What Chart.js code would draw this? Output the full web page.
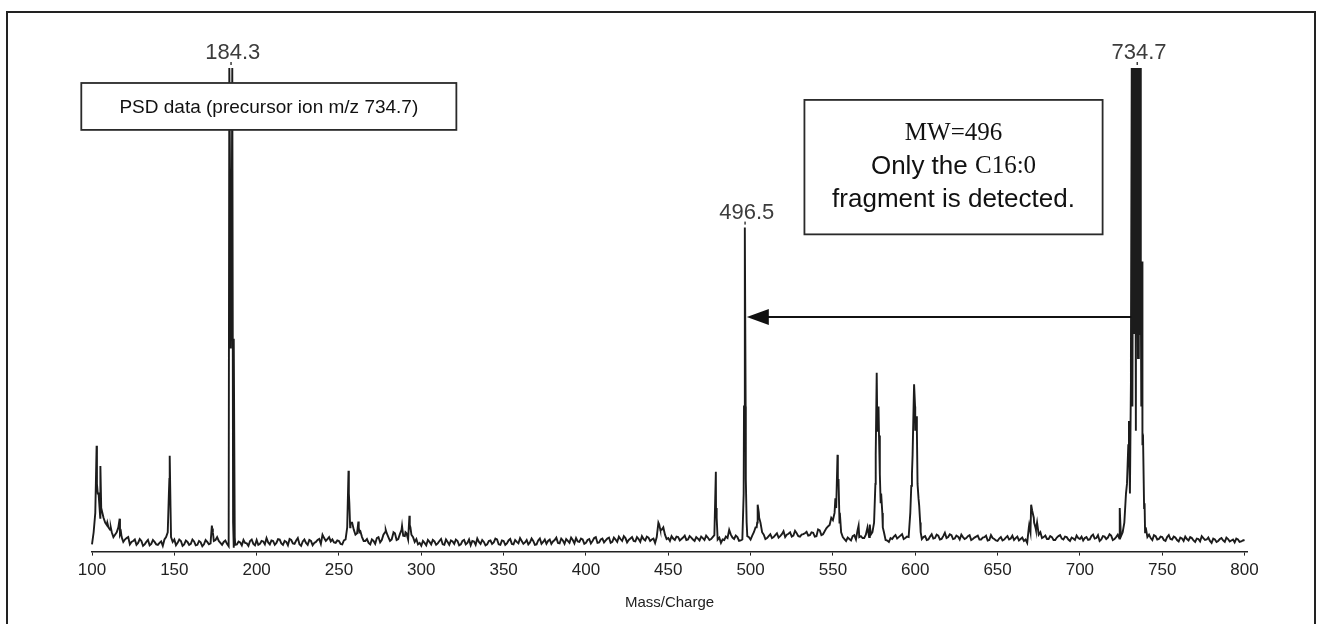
<!DOCTYPE html>
<html>
<head>
<meta charset="UTF-8">
<title>PSD spectrum</title>
<script src="https://cdn.jsdelivr.net/npm/chart.js@4.4.0/dist/chart.umd.min.js"></script>
<style>
  html, body { margin: 0; padding: 0; background: #fff; overflow: hidden; }
  #frame { position: absolute; left: 6px; top: 11px; width: 1306px; height: 700px; border: 2px solid #222; }
  #spectrum { position: absolute; left: 0; top: 0; }
</style>
</head>
<body>
<div id="frame"></div>
<canvas id="spectrum" width="1322" height="624"></canvas>
<script>
// profile trace, relative intensity %: readings at even m/z (100..800) and odd m/z (101..799)
var profileStep = 2;
var evenStart = 100;
var profileEven = [
  1.5, 8, 12, 9, 6, 5, 4, 3.5, 5, 3, 2.5, 3, 2, 2.5, 1.8, 2.2, 1.5, 2.4, 1.6, 2, 1.4, 2.1, 2.5, 4, 3,
  2.5, 1.8, 2.2, 1.5, 2, 1.6, 2.1, 1.4, 1.9, 1.5, 2.0, 1.7, 2.2, 3, 1.8, 2, 1.6, 70, 0.8, 1.5, 1.9, 2.4, 1.7, 2.2, 1.6,
  2.4, 1.6, 2.1, 2.8, 1.5, 2.2, 1.8, 2.5, 1.4, 2, 2.6, 1.7, 2.3, 1.5, 2.1, 1.8, 2.4, 1.3, 2, 2.6, 3.5, 2.2, 3, 2.5, 1.8,
  2.2, 1.5, 2.5, 12, 6, 3.5, 5, 3, 2.2, 1.8, 2.5, 1.6, 3, 2.4, 4, 3, 2.5, 3.8, 2.6, 4.5, 3.2, 2.5, 3.5, 2, 1.5,
  1.2, 1.8, 2.4, 1.5, 2.1, 1.7, 2.6, 1.4, 2, 2.3, 1.6, 2.2, 1.5, 2.4, 1.8, 1.3, 2.1, 2.7, 1.6, 2, 1.5, 2.3, 1.9, 2.5, 1.4,
  2.2, 1.7, 2.6, 1.5, 2, 2.8, 1.6, 2.4, 1.9, 2.2, 1.5, 2.7, 2, 1.6, 2.5, 2.1, 2.9, 1.7, 2.3, 2.6, 1.8, 2.4, 2.8, 2, 2.5,
  1.8, 2.6, 2.2, 3, 1.9, 2.7, 2.3, 2.9, 2, 2.5, 3.1, 2.2, 2.8, 2.4, 3, 2.1, 2.6, 3.2, 2.3, 2.9, 2.5, 1.8, 6, 4.5, 3.5,
  2.8, 3.2, 2.4, 3, 2.6, 3.3, 2.5, 2.9, 2.2, 2.7, 3.1, 2.4, 2.9, 2.6, 3.4, 2.5, 1.8, 2.4, 2.8, 3.5, 2.6, 3, 2.3, 30, 3.2,
  2.5, 4, 6, 6, 3.5, 2.8, 3.6, 3, 3.8, 3.2, 4.2, 3.5, 4, 3.3, 3.8, 3.1, 3.6, 4.1, 3.4, 3.9, 3.2, 4.4, 3.6, 4.8, 5.5,
  6.5, 9, 6, 3, 2.2, 2.6, 3.2, 2.5, 3, 2.8, 3.5, 3, 4, 20, 24, 8, 2.4, 2, 2.6, 3.4, 3, 3.6, 2.8, 3, 16,
  25, 11, 2.6, 3.2, 2.5, 3.6, 2.8, 3.3, 2.6, 3.9, 3, 3.4, 2.7, 3.1, 3.5, 2.6, 3.2, 2.4, 2.9, 3.3, 2.5, 3, 2.3, 3.4, 2.6,
  2.2, 3, 2.5, 3.2, 2.7, 2.4, 3.1, 2.6, 2.2, 1.8, 4, 7, 6, 4, 3, 2.6, 3.2, 2.4, 2.9, 3.4, 2.5, 3, 2.2, 2.7, 3.3,
  2.6, 2.3, 3, 2.5, 3.5, 2.8, 2.2, 3.2, 2.6, 3.6, 2.4, 3, 2.7, 4, 12, 20, 30, 25, 45, 22, 5, 3.5, 2.4, 3.2, 2.6,
  3, 2.2, 3.4, 2.5, 2.9, 2.1, 2.7, 3.1, 2.3, 2.8, 2, 2.6, 3.2, 2.4, 2.9, 1.8, 2.5, 2.2, 2.8, 2, 2.6, 2.3, 1.9, 2.5, 2.1,
  2.4
];
var oddStart = 101;
var profileOdd = [
  4, 14, 7, 7, 5.5, 4.5, 3, 4, 3.5, 2, 2.8, 1.5, 2.2, 1.4, 2.6, 1.2, 2, 1.3, 2.4, 1.5, 1.8, 1.2, 3, 15, 2,
  1.3, 2.5, 1.2, 2.3, 1.4, 2.5, 1.3, 2.2, 1.1, 2.4, 1.5, 4.8, 2.4, 2.2, 1.4, 2.3, 1.1, 80, 1.4, 2.1, 1.3, 1.8, 1.2, 2.5, 1.3,
  1.4, 2.2, 1.5, 1.9, 2.3, 1.4, 2.6, 1.7, 2.2, 1.3, 2.4, 1.6, 2.8, 1.2, 2.5, 1.4, 2.2, 1.8, 2.4, 1.6, 2.8, 2.6, 2.1, 1.9, 2.3,
  1.6, 2.3, 5, 6, 4.5, 3.8, 4.2, 2.2, 2.6, 1.5, 2.2, 2.8, 1.9, 3.5, 3.8, 2.2, 3.8, 2.4, 3.6, 3.3, 3.8, 5.5, 3, 2.6, 1.8,
  2.2, 1.3, 2, 2.4, 1.4, 2.2, 1.5, 2.5, 1.4, 2.1, 2.5, 1.3, 2.2, 1.5, 2.5, 2.2, 1.4, 2, 2.4, 1.3, 2.2, 1.6, 2.7, 1.5, 2.3,
  1.4, 2.3, 1.6, 2.4, 1.7, 2.2, 1.9, 1.5, 2.7, 1.4, 2.3, 1.6, 2.5, 2.2, 1.6, 2.4, 1.8, 2.7, 1.6, 2.2, 2.9, 1.7, 2.1, 2.7, 1.6,
  2.4, 1.7, 2.8, 1.8, 2.5, 1.9, 2.7, 1.8, 2.9, 2, 2.6, 3.2, 1.9, 2.7, 2.2, 3, 2, 2.6, 3.1, 2.2, 2.7, 3, 4.8, 5, 2.6,
  2.2, 2.7, 3.1, 2.3, 2.9, 2.4, 3.2, 2.5, 3, 2.3, 2.8, 3.3, 2.4, 3, 9, 2.9, 2.5, 3.1, 4.5, 2.9, 3.3, 2.2, 2.5, 30, 3,
  3.3, 5, 8, 4, 2.6, 3.2, 2.8, 3.4, 2.9, 3.6, 3, 3.7, 3.1, 4.3, 3.2, 3.5, 3.8, 3.3, 4, 3.1, 4.6, 3.4, 4.2, 5.2, 7,
  8, 14, 4, 2.6, 2.9, 2.3, 3.4, 4.5, 3.2, 2.8, 5, 3.5, 6, 25, 10, 4, 2.3, 2.8, 3.1, 2.7, 3.3, 2.6, 3.1, 8, 30,
  25, 6, 3, 2.4, 3.1, 2.7, 3.5, 2.5, 3.2, 2.8, 3.6, 2.6, 3.3, 2.5, 3, 2.8, 3.4, 2.6, 3.1, 2.5, 2.9, 3.3, 2.4, 2.8, 2.3,
  2.7, 2.3, 2.9, 2.5, 3.3, 2.8, 2.3, 2.9, 2.5, 5, 8.5, 5, 3.5, 2.8, 3.3, 2.6, 3, 2.4, 3.2, 2.7, 3.1, 2.5, 2.9, 2.4, 2.8,
  3.1, 2.8, 2.4, 3.2, 2.7, 3.4, 2.5, 3.1, 2.9, 3.3, 2.6, 3.5, 3.2, 6, 18, 35, 70, 60, 55, 9, 3, 2.8, 3.4, 2.5, 3.1,
  2.4, 3, 2.6, 3.1, 2.4, 2.9, 2.2, 2.6, 3, 2.3, 2.7, 2.1, 2.8, 2.5, 2.2, 2.7, 2, 2.6, 2.3, 2.9, 2.1, 2.5, 2.7, 2, 2.3
];

// resolved peak tops laid over the profile
var peakMz = [
  102.8, 103.5, 105.1, 105.6, 109.3, 111.4, 116.8, 117.6,
  146.7, 147.2, 147.7, 172.8, 173.4,
  183.4, 184.3, 185.2, 185.7, 186.2, 186.7,
  255.8, 256.3, 256.8, 261.8, 262.4, 278.4, 283.2, 288.3, 290.4, 292.8, 293.4,
  444.5, 445.2, 478.9, 479.4,
  495.8, 496.5, 497.1, 497.6,
  503.7, 504.3, 505.2,
  551.5, 552.8, 553.4, 554.2, 565.6, 572.4,
  575.8, 576.6, 577.2, 577.7, 578.5, 579.3, 580.3,
  597.6, 598.4, 599.3, 599.9, 600.6, 601.4, 602.4, 603.3,
  669.2, 670.4, 671.2, 672.2, 673.3, 724.2, 724.8,
  728.6, 729.4, 729.8, 730.4, 731, 731.5, 731.9, 732.5, 733.1, 733.6, 734.1, 734.7,
  735.3, 735.8, 736.3, 736.8, 737.3, 737.8, 738.4, 739.3, 739.6
];
var peakInt = [
  21.9, 12, 17.7, 9, 6, 5, 6.8, 4,
  12, 19.8, 9, 5.4, 4,
  100, 42, 100, 6, 44, 3,
  16.7, 10, 5, 6.2, 4, 4.5, 4, 5.3, 4, 7.4, 5,
  5.6, 4.5, 16.5, 7,
  12, 67, 15, 6,
  5, 9.7, 7,
  11, 20, 15, 8, 5.4, 5.6,
  14, 37, 28, 30, 16, 12, 5,
  13.6, 20, 34.6, 30, 28, 14, 9.5, 4,
  5.5, 9.7, 8.5, 6, 4.5, 9, 4,
  14, 22, 27, 12, 40, 100, 30, 100, 45, 100, 60, 100,
  40, 100, 55, 100, 30, 60, 22.7, 10, 4
];

var labelMz = [184.3, 496.5, 734.7];
var labelInt = [100, 67, 100];
var labelText = ['184.3', '496.5', '734.7'];

var xTicks = [100, 150, 200, 250, 300, 350, 400, 450, 500, 550, 600, 650, 700, 750, 800];

var points = [];
profileEven.forEach(function (v, i) {
  points.push({ x: evenStart + i * profileStep, y: v });
});
profileOdd.forEach(function (v, i) {
  points.push({ x: oddStart + i * profileStep, y: v });
});
peakMz.forEach(function (m, i) {
  points.push({ x: m, y: peakInt[i] });
});
points.sort(function (a, b) { return a.x - b.x; });

var sans = '"Liberation Sans", Arial, sans-serif';
var serif = '"Liberation Serif", "Times New Roman", serif';

function drawBox(c, x0, y0, x1, y1) {
  c.fillStyle = '#fff';
  c.fillRect(x0, y0, x1 - x0, y1 - y0);
  c.strokeStyle = '#2a2a2a';
  c.lineWidth = 1.8;
  c.strokeRect(x0, y0, x1 - x0, y1 - y0);
}

var annotate = {
  id: 'annotate',
  afterDatasetsDraw: function (chart) {
    var c = chart.ctx, xs = chart.scales.x, ys = chart.scales.y;
    c.save();

    // peak labels
    c.font = '22px ' + sans;
    c.fillStyle = '#3c3c3c';
    c.textAlign = 'center';
    c.textBaseline = 'alphabetic';
    labelMz.forEach(function (m, i) {
      var px = xs.getPixelForValue(m), py = ys.getPixelForValue(labelInt[i]);
      c.fillText(labelText[i], px + 2, py - 9);
      c.fillRect(px - 0.5, py - 6, 1.5, 3);
    });

    // precursor box
    var b1x0 = xs.getPixelForValue(93.5), b1x1 = xs.getPixelForValue(321.3);
    var b1y0 = ys.getPixelForValue(96.9), b1y1 = ys.getPixelForValue(87.2);
    drawBox(c, b1x0, b1y0, b1x1, b1y1);
    c.fillStyle = '#111';
    c.font = '19px ' + sans;
    c.textBaseline = 'middle';
    c.fillText('PSD data (precursor ion m/z 734.7)', (b1x0 + b1x1) / 2, (b1y0 + b1y1) / 2 + 1);

    // MW box
    var b2x0 = xs.getPixelForValue(532.7), b2x1 = xs.getPixelForValue(713.8);
    var b2y0 = ys.getPixelForValue(93.4), b2y1 = ys.getPixelForValue(65.6);
    drawBox(c, b2x0, b2y0, b2x1, b2y1);
    var cx = (b2x0 + b2x1) / 2;
    c.fillStyle = '#111';
    c.font = '25px ' + serif;
    c.fillText('MW=496', cx, b2y0 + 34);
    // mixed-font line
    c.font = '26px ' + sans;
    var w1 = c.measureText('Only the ').width;
    c.font = '25px ' + serif;
    var w2 = c.measureText('C16:0').width;
    var sx = cx - (w1 + w2) / 2;
    c.textAlign = 'left';
    c.font = '26px ' + sans;
    c.fillText('Only the ', sx, b2y0 + 67);
    c.font = '25px ' + serif;
    c.fillText('C16:0', sx + w1, b2y0 + 67);
    c.textAlign = 'center';
    c.font = '26px ' + sans;
    c.fillText('fragment is detected.', cx, b2y0 + 100);

    // arrow from precursor to fragment
    var ay = ys.getPixelForValue(48.5);
    var ax0 = xs.getPixelForValue(731.3), tip = xs.getPixelForValue(496.5) + 2;
    c.strokeStyle = '#111';
    c.lineWidth = 2;
    c.beginPath();
    c.moveTo(ax0, ay);
    c.lineTo(tip + 18, ay);
    c.stroke();
    c.fillStyle = '#111';
    c.beginPath();
    c.moveTo(tip, ay);
    c.lineTo(tip + 22, ay - 8);
    c.lineTo(tip + 22, ay + 8);
    c.closePath();
    c.fill();

    c.restore();
  }
};

new Chart(document.getElementById('spectrum'), {
  type: 'line',
  data: {
    datasets: [{
      data: points,
      borderColor: '#1c1c1c',
      borderWidth: 1.9,
      pointRadius: 0,
      tension: 0,
      fill: false,
      clip: false
    }]
  },
  options: {
    responsive: false,
    animation: false,
    layout: { padding: { left: 92, right: 75, top: 68, bottom: 12 } },
    plugins: { legend: { display: false }, tooltip: { enabled: false } },
    scales: {
      x: {
        type: 'linear',
        min: 100,
        max: 801.5,
        afterBuildTicks: function (scale) {
          scale.ticks = xTicks.map(function (v) { return { value: v }; });
        },
        grid: { display: true, drawOnChartArea: false, drawTicks: true, tickLength: 4, color: '#222' },
        border: { display: true, color: '#222', width: 1.5 },
        ticks: { font: { family: sans, size: 17 }, color: '#222', padding: 5, maxRotation: 0, autoSkip: false },
        title: { display: true, text: 'Mass/Charge', font: { family: sans, size: 15 }, color: '#222', padding: { top: 8, bottom: 0 } }
      },
      y: { display: false, min: 0, max: 100 }
    }
  },
  plugins: [annotate]
});
</script>
</body>
</html>
